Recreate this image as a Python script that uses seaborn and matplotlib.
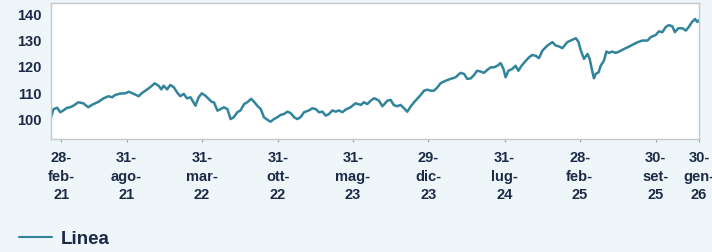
import pandas as pd
import matplotlib
matplotlib.use("Agg")
import matplotlib.pyplot as plt
import seaborn as sns

# values (roughly every 10 days)
dates = [
    "2021-01-29", "2021-02-06", "2021-02-16", "2021-02-25", "2021-03-06", "2021-03-16", "2021-03-25",
    "2021-04-03", "2021-04-17", "2021-05-01", "2021-05-15", "2021-05-25", "2021-06-13", "2021-06-27",
    "2021-07-11", "2021-07-21", "2021-07-30", "2021-08-13", "2021-08-27", "2021-09-06", "2021-09-20",
    "2021-10-04", "2021-10-13", "2021-10-27", "2021-11-06", "2021-11-18", "2021-11-29", "2021-12-07",
    "2021-12-13", "2021-12-23", "2022-01-01", "2022-01-11", "2022-01-20", "2022-01-29", "2022-02-08",
    "2022-02-17", "2022-02-27", "2022-03-13", "2022-03-22", "2022-03-31", "2022-04-10", "2022-04-19",
    "2022-04-28", "2022-05-04", "2022-05-14", "2022-05-23", "2022-06-01", "2022-06-11", "2022-06-20",
    "2022-06-29", "2022-07-09", "2022-07-18", "2022-07-28", "2022-08-06", "2022-08-17", "2022-08-25",
    "2022-09-03", "2022-09-13", "2022-09-22", "2022-10-02", "2022-10-11", "2022-10-20", "2022-10-30",
    "2022-11-08", "2022-11-17", "2022-11-27", "2022-12-06", "2022-12-16", "2022-12-25", "2023-01-03",
    "2023-01-13", "2023-01-27", "2023-02-05", "2023-02-15", "2023-02-24", "2023-03-06", "2023-03-15",
    "2023-03-24", "2023-04-03", "2023-04-12", "2023-04-21", "2023-05-01", "2023-05-10", "2023-05-24",
    "2023-06-07", "2023-06-22", "2023-07-01", "2023-07-10", "2023-07-20", "2023-07-29", "2023-08-03",
    "2023-08-12", "2023-08-22", "2023-09-05", "2023-09-14", "2023-09-23", "2023-10-03", "2023-10-12",
    "2023-10-22", "2023-10-31", "2023-11-10", "2023-11-19", "2023-11-28", "2023-12-08", "2023-12-17",
    "2023-12-27", "2024-01-05", "2024-01-14", "2024-01-24", "2024-02-02", "2024-02-16", "2024-03-01",
    "2024-03-15", "2024-03-29", "2024-04-08", "2024-04-17", "2024-04-27", "2024-05-06", "2024-05-15",
    "2024-05-25", "2024-06-03", "2024-06-13", "2024-06-22", "2024-07-01", "2024-07-11", "2024-07-20",
    "2024-07-28", "2024-08-03", "2024-08-11", "2024-08-22", "2024-08-31", "2024-09-08", "2024-09-17",
    "2024-09-29", "2024-10-08", "2024-10-17", "2024-10-27", "2024-11-05", "2024-11-15", "2024-11-29",
    "2024-12-13", "2024-12-22", "2024-12-31", "2025-01-10", "2025-01-24", "2025-02-07", "2025-02-17",
    "2025-02-24", "2025-03-03", "2025-03-12", "2025-03-22", "2025-03-28", "2025-04-05", "2025-04-09",
    "2025-04-14", "2025-04-22", "2025-04-28", "2025-05-07", "2025-05-14", "2025-05-21", "2025-05-31",
    "2025-06-09", "2025-06-19", "2025-07-03", "2025-07-17", "2025-07-31", "2025-08-09", "2025-08-23",
    "2025-09-07", "2025-09-16", "2025-09-30", "2025-10-09", "2025-10-19", "2025-10-28", "2025-11-06",
    "2025-11-16", "2025-11-23", "2025-12-03", "2025-12-14", "2025-12-24", "2026-01-02", "2026-01-11",
    "2026-01-19", "2026-01-25", "2026-01-30",
]
values = [
    100.0, 103.5, 104.0, 102.3, 103.0, 104.0, 104.2,
    104.8, 106.1, 105.7, 104.2, 105.1, 106.3, 107.6,
    108.4, 108.0, 108.9, 109.4, 109.5, 110.1, 109.3,
    108.4, 109.6, 110.9, 111.9, 113.3, 112.4, 111.0,
    112.4, 111.0, 112.7, 111.8, 109.9, 108.4, 109.3,
    107.6, 108.0, 104.8, 108.0, 109.5, 108.6, 107.4,
    106.2, 106.1, 102.9, 103.5, 104.2, 103.5, 99.7,
    100.4, 102.3, 103.0, 105.4, 106.1, 107.4, 106.3,
    104.8, 103.5, 100.4, 99.4, 98.7, 99.7, 100.4,
    101.3, 101.6, 102.5, 102.0, 100.4, 99.7, 100.4,
    102.3, 103.0, 103.8, 103.5, 102.3, 102.5, 101.0,
    101.6, 103.0, 102.5, 103.0, 102.3, 103.3, 104.2,
    105.7, 105.1, 106.1, 105.4, 106.7, 107.6, 107.4,
    106.7, 104.6, 106.7, 107.0, 105.0, 104.6, 105.1,
    103.8, 102.5, 104.6, 106.1, 107.4, 108.9, 110.5,
    110.9, 110.5, 110.5, 111.8, 113.4, 114.3, 115.0,
    115.6, 117.3, 116.9, 115.0, 115.2, 116.5, 118.1,
    117.8, 117.3, 118.5, 119.4, 119.4, 120.0, 121.0,
    118.8, 115.6, 118.1, 118.8, 120.0, 118.1, 120.0,
    121.9, 123.2, 124.1, 123.8, 122.9, 125.8, 127.7,
    129.0, 127.7, 127.4, 126.7, 129.0, 129.9, 130.5,
    129.2, 125.8, 122.6, 124.5, 122.6, 117.5, 115.2,
    116.9, 117.5, 120.0, 121.9, 125.4, 124.9, 125.4,
    124.9, 125.4, 126.4, 127.3, 128.3, 128.9, 129.6,
    129.6, 130.9, 131.7, 133.1, 132.8, 134.7, 135.5,
    135.0, 132.8, 134.3, 134.3, 133.4, 134.9, 136.8,
    137.8, 136.7, 137.3,
]

tick_dates = ["2021-02-28", "2021-08-31", "2022-03-31", "2022-10-31", "2023-05-31",
              "2023-12-29", "2024-07-31", "2025-02-28", "2025-09-30", "2026-01-30"]
tick_labels = ["28-\nfeb-\n21", "31-\nago-\n21", "31-\nmar-\n22", "31-\nott-\n22", "31-\nmag-\n23",
               "29-\ndic-\n23", "31-\nlug-\n24", "28-\nfeb-\n25", "30-\nset-\n25", "30-\ngen-\n26"]
y_ticks = [100, 110, 120, 130, 140]

df = pd.DataFrame({"Data": pd.to_datetime(dates), "Linea": values})

sns.set_style("white")
plt.rcParams["font.family"] = ["Liberation Sans", "DejaVu Sans"]
plt.rcParams["font.weight"] = "bold"

bg = "#eef6f9"
navy = "#1c2a48"
teal = "#31849b"

fig = plt.figure(figsize=(7.12, 2.53), dpi=100, facecolor=bg)
ax = fig.add_axes([0.0712, 0.4486, 0.9105, 0.5356])
ax.set_facecolor("white")

sns.lineplot(data=df, x="Data", y="Linea", color=teal, linewidth=1.8, label="Linea", ax=ax)

ax.set_xlim(df["Data"].iloc[0], df["Data"].iloc[-1])
ax.set_ylim(92.3, 143.9)
ax.set_yticks(y_ticks)
ax.set_xticks(pd.to_datetime(tick_dates))
ax.set_xticklabels(tick_labels, linespacing=1.4)
ax.set_xlabel("")
ax.set_ylabel("")

for s in ax.spines.values():
    s.set_color("#c4c8cc")
    s.set_linewidth(1.0)

ax.tick_params(axis="both", colors="#9aa0a6", labelcolor=navy, length=2.5, width=0.8)
ax.tick_params(axis="y", labelsize=10.5, pad=4)
ax.tick_params(axis="x", labelsize=10.5, pad=6, bottom=True)

leg = ax.legend(loc="center left", bbox_to_anchor=(0.003, 0.052), bbox_transform=fig.transFigure,
                frameon=False, fontsize=13.5, handlelength=1.75, handletextpad=0.45)
for t in leg.get_texts():
    t.set_color(navy)
for h in leg.get_lines():
    h.set_linewidth(1.5)

fig.savefig("out.png", dpi=100, facecolor=bg)
